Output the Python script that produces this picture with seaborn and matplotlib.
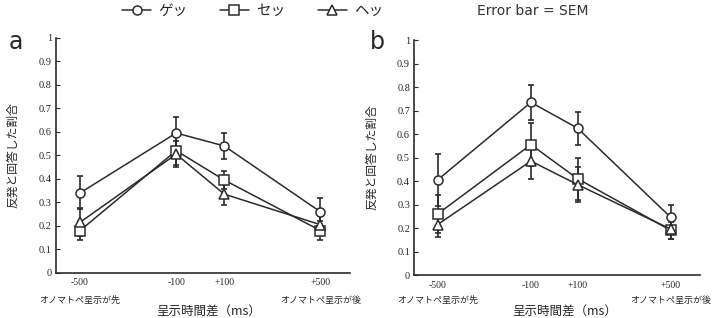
import numpy as np
import pandas as pd
import matplotlib
matplotlib.use('Agg')
import matplotlib.pyplot as plt
import seaborn as sns

# %%Data

times = [-500, -100, 100, 500]
tick_labels = ['-500', '-100', '+100', '+500']
stimuli = ['ゲッ', 'セッ', 'ヘッ']
markers = {'ゲッ': 'o', 'セッ': 's', 'ヘッ': '^'}

# panel a
a_get = [0.34, 0.595, 0.54, 0.26]
a_get_sem = [0.07, 0.07, 0.055, 0.06]
a_set = [0.18, 0.52, 0.395, 0.18]
a_set_sem = [0.04, 0.06, 0.04, 0.04]
a_het = [0.215, 0.505, 0.335, 0.205]
a_het_sem = [0.06, 0.055, 0.045, 0.04]

# panel b
b_get = [0.405, 0.735, 0.625, 0.245]
b_get_sem = [0.11, 0.075, 0.07, 0.055]
b_set = [0.26, 0.555, 0.41, 0.19]
b_set_sem = [0.08, 0.09, 0.09, 0.035]
b_het = [0.215, 0.485, 0.385, 0.195]
b_het_sem = [0.055, 0.075, 0.075, 0.04]

rows = []
for panel, vals, sems in [('a', [a_get, a_set, a_het], [a_get_sem, a_set_sem, a_het_sem]),
                          ('b', [b_get, b_set, b_het], [b_get_sem, b_set_sem, b_het_sem])]:
    for stim, v, s in zip(stimuli, vals, sems):
        for t, vi, si in zip(times, v, s):
            rows.append({'panel': panel, 'stim': stim, 'time': t, 'value': vi, 'err': si})
data = pd.DataFrame(rows)

# %%Plot

sns.set_style('ticks')
plt.rcParams['font.family'] = ['Noto Sans CJK JP', 'DejaVu Sans']

col = '#2b2b2b'
fig = plt.figure(figsize=(7.18, 3.18), dpi=100)
ax_a = fig.add_axes([0.078, 0.142, 0.41, 0.739])
ax_b = fig.add_axes([0.577, 0.135, 0.398, 0.739])

for ax, panel in [(ax_a, 'a'), (ax_b, 'b')]:
    sub = data[data.panel == panel]
    for stim in stimuli:
        d = sub[sub.stim == stim]
        ax.errorbar(d['time'], d['value'], yerr=d['err'], fmt='none', ecolor=col,
                    elinewidth=1.2, capsize=2, capthick=1.2, zorder=2)
        sns.lineplot(x=d['time'].values, y=d['value'].values, ax=ax, color=col, lw=1.1,
                     marker=markers[stim], markersize=6.5, markerfacecolor='white',
                     markeredgecolor=col, markeredgewidth=1.1, label=stim, zorder=3)
    ax.set_xlim(-600, 625)
    ax.set_ylim(0, 1)
    ax.set_yticks(np.arange(0, 1.01, 0.1))
    ax.set_yticklabels(['0'] + ['%.1f' % v for v in np.arange(0.1, 0.95, 0.1)] + ['1'],
                       family='Liberation Serif', fontsize=7.5)
    ax.set_xticks(times)
    ax.set_xticklabels(tick_labels, family='Liberation Serif', fontsize=7)
    ax.tick_params(axis='y', direction='in', length=3, width=0.8, pad=3)
    ax.tick_params(axis='x', length=0, pad=4)
    sns.despine(ax=ax)
    for sp in ['left', 'bottom']:
        ax.spines[sp].set_linewidth(1.2)
        ax.spines[sp].set_color(col)
    ax.set_ylabel('反発と回答した割合', fontsize=8.5)
    ax.yaxis.set_label_coords(-0.125, 0.5)
    ax.get_legend().remove()

# sub labels and x labels (same height for both panels)
for ax, xc in [(ax_a, 0.29), (ax_b, 0.787)]:
    pos = ax.get_position()
    for t, txt in [(-500, 'オノマトペ呈示が先'), (500, 'オノマトペ呈示が後')]:
        xf = pos.x0 + pos.width * (t - (-600)) / (625 - (-600))
        fig.text(xf, 1 - 300 / 318, txt, ha='center', va='center', fontsize=6.5)
    fig.text(xc, 1 - 312 / 318, '呈示時間差（ms）', ha='center', va='center', fontsize=9)

fig.text(0.012, 0.845, 'a', fontsize=17, family='DejaVu Sans')
fig.text(0.515, 0.845, 'b', fontsize=17, family='DejaVu Sans')

handles, labels = ax_a.get_legend_handles_labels()
fig.legend(handles[:3], labels[:3], loc='center', bbox_to_anchor=(0.352, 0.965), ncol=3,
           frameon=False, fontsize=10.5, handlelength=2.0, columnspacing=2.2, handletextpad=0.5)
fig.text(0.742, 0.965, 'Error bar = SEM', ha='center', va='center', fontsize=10,
         family='DejaVu Sans', color='#333333')

plt.savefig('out.png', dpi=100)
